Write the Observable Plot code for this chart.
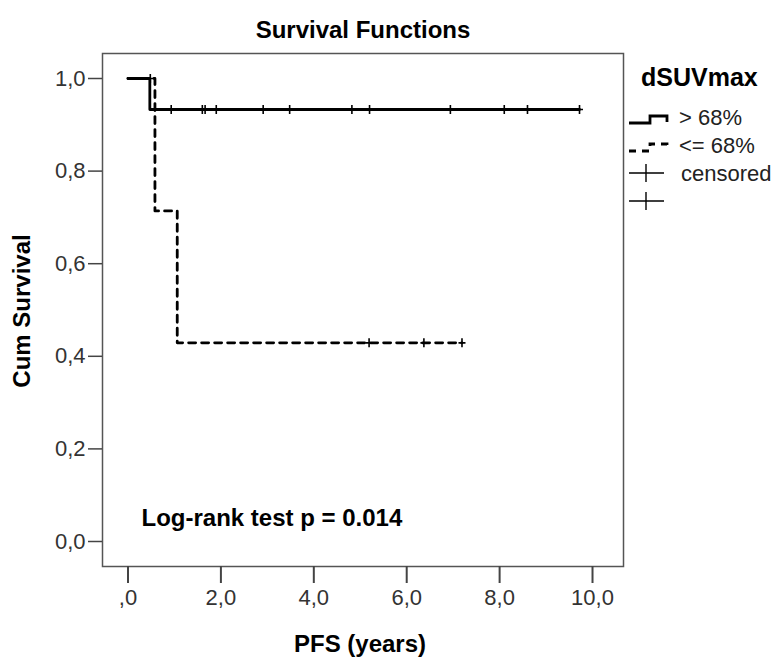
<!DOCTYPE html>
<html>
<head>
<meta charset="utf-8">
<script src="https://cdn.jsdelivr.net/npm/d3@7"></script>
<script src="https://cdn.jsdelivr.net/npm/@observablehq/plot@0.6"></script>
<style>
  html, body { margin: 0; padding: 0; background: #fff; }
  #chart { width: 776px; height: 657px; }
  svg { font-family: "Liberation Sans", Arial, sans-serif; }
</style>
</head>
<body>
<div id="chart"></div>
<script>
// ---- Data ----
const seriesNames = ["> 68%", "<= 68%"];
// Kaplan–Meier steps, group "> 68%"
const highTime = [0, 0.47, 9.72];
const highSurv = [1.0, 0.933, 0.933];
// censored observations, group "> 68%"
const highCensorTime = [0.48, 0.93, 1.60, 1.66, 1.90, 2.91, 3.48, 4.82, 5.20, 6.94, 8.10, 8.60, 9.72];
const highCensorSurv = [1.0, 0.933, 0.933, 0.933, 0.933, 0.933, 0.933, 0.933, 0.933, 0.933, 0.933, 0.933, 0.933];
// Kaplan–Meier steps, group "<= 68%"
const lowTime = [0, 0.58, 1.06, 7.19];
const lowSurv = [1.0, 0.714, 0.429, 0.429];
// censored observations, group "<= 68%"
const lowCensorTime = [5.19, 6.37, 7.19];
const lowCensorSurv = [0.429, 0.429, 0.429];

const xTicks = [0, 2, 4, 6, 8, 10];
const xTickLabels = [",0", "2,0", "4,0", "6,0", "8,0", "10,0"];
const yTicks = [0, 0.2, 0.4, 0.6, 0.8, 1.0];
const yTickLabels = ["0,0", "0,2", "0,4", "0,6", "0,8", "1,0"];

const titleText = "Survival Functions";
const xLabel = "PFS (years)";
const yLabel = "Cum Survival";
const annotation = "Log-rank test p = 0.014";
const legendTitle = "dSUVmax";
const legendCensored = "censored";

// ---- Tables built from the arrays ----
const high = highTime.map((t, i) => ({t, s: highSurv[i]}));
const low = lowTime.map((t, i) => ({t, s: lowSurv[i]}));
const highC = highCensorTime.map((t, i) => ({t, s: highCensorSurv[i]}));
const lowC = lowCensorTime.map((t, i) => ({t, s: lowCensorSurv[i]}));

const tickSymbol = {
  draw(ctx) {
    ctx.moveTo(0, -4.5); ctx.lineTo(0, 4.5);
    ctx.moveTo(-3.5, 0); ctx.lineTo(3.5, 0);
  }
};

const chart = Plot.plot({
  width: 776,
  height: 657,
  marginLeft: 102,
  marginRight: 153,
  marginTop: 53,
  marginBottom: 91,
  style: {fontFamily: "'Liberation Sans', Arial, sans-serif", background: "#fff"},
  x: {domain: [-0.549, 10.667]},
  y: {domain: [-0.054, 1.054]},
  marks: [
    Plot.frame({stroke: "#555", strokeWidth: 1.5}),
    Plot.axisX({
      ticks: xTicks,
      tickFormat: d => xTickLabels[xTicks.indexOf(d)],
      tickSize: 17, tickPadding: 6, fontSize: 22,
      stroke: "#444", strokeWidth: 2, fill: "#333", label: null
    }),
    Plot.axisY({
      ticks: yTicks,
      tickFormat: d => yTickLabels[yTicks.findIndex(v => Math.abs(v - d) < 1e-9)],
      tickSize: 14, tickPadding: 3, fontSize: 22,
      stroke: "#444", strokeWidth: 1.5, fill: "#333", label: null
    }),
    Plot.line(low, {x: "t", y: "s", curve: "step-after", stroke: "#000", strokeWidth: 2.8, strokeDasharray: "7,6"}),
    Plot.line(high, {x: "t", y: "s", curve: "step-after", stroke: "#000", strokeWidth: 2.8}),
    Plot.dot(lowC, {x: "t", y: "s", symbol: tickSymbol, stroke: "#000", strokeWidth: 1.6, fill: "none"}),
    Plot.dot(highC, {x: "t", y: "s", symbol: tickSymbol, stroke: "#000", strokeWidth: 1.6, fill: "none"}),
    Plot.text([titleText], {frameAnchor: "top", lineAnchor: "middle", dy: -23, fontSize: 24, fontWeight: "bold", fill: "#000"}),
    Plot.text([xLabel], {frameAnchor: "bottom", lineAnchor: "middle", dy: 78, dx: -3, fontSize: 24, fontWeight: "bold", fill: "#000"}),
    Plot.text([yLabel], {frameAnchor: "left", textAnchor: "middle", lineAnchor: "middle", dx: -80, dy: 1, rotate: -90, fontSize: 24, fontWeight: "bold", fill: "#000"}),
    Plot.text([annotation], {frameAnchor: "bottom-left", textAnchor: "start", lineAnchor: "middle", dx: 39, dy: -48, fontSize: 24, fontWeight: "bold", fill: "#000"})
  ]
});

// ---- Legend (outside the frame, right side) ----
const svg = d3.select(chart);
const lg = svg.append("g").attr("font-family", "'Liberation Sans', Arial, sans-serif").attr("text-anchor", "start");
lg.append("text").attr("x", 641).attr("y", 77).attr("dy", "0.36em").attr("text-anchor", "start").attr("font-size", 25).attr("font-weight", "bold").attr("fill", "#000").text(legendTitle);
const rows = [117, 145];
const stepPath = y => `M629,${y + 6}H650V${y - 1}H667V${y + 5}`;
lg.append("path").attr("d", stepPath(rows[0])).attr("fill", "none").attr("stroke", "#000").attr("stroke-width", 2.8);
lg.append("path").attr("d", stepPath(rows[1])).attr("fill", "none").attr("stroke", "#000").attr("stroke-width", 2.8).attr("stroke-dasharray", "7,6");
seriesNames.forEach((name, i) => {
  lg.append("text").attr("x", 679).attr("y", rows[i]).attr("dy", "0.36em").attr("text-anchor", "start").attr("font-size", 22).attr("fill", "#222").text(name);
});
[173, 201].forEach((y, i) => {
  lg.append("path").attr("d", `M629,${y}H664M646,${y - 9}V${y + 9}`).attr("fill", "none").attr("stroke", "#000").attr("stroke-width", 1.4);
  if (i === 0) lg.append("text").attr("x", 681).attr("y", y).attr("dy", "0.36em").attr("text-anchor", "start").attr("font-size", 22).attr("fill", "#222").text(legendCensored);
});

document.getElementById("chart").appendChild(chart);
</script>
</body>
</html>
